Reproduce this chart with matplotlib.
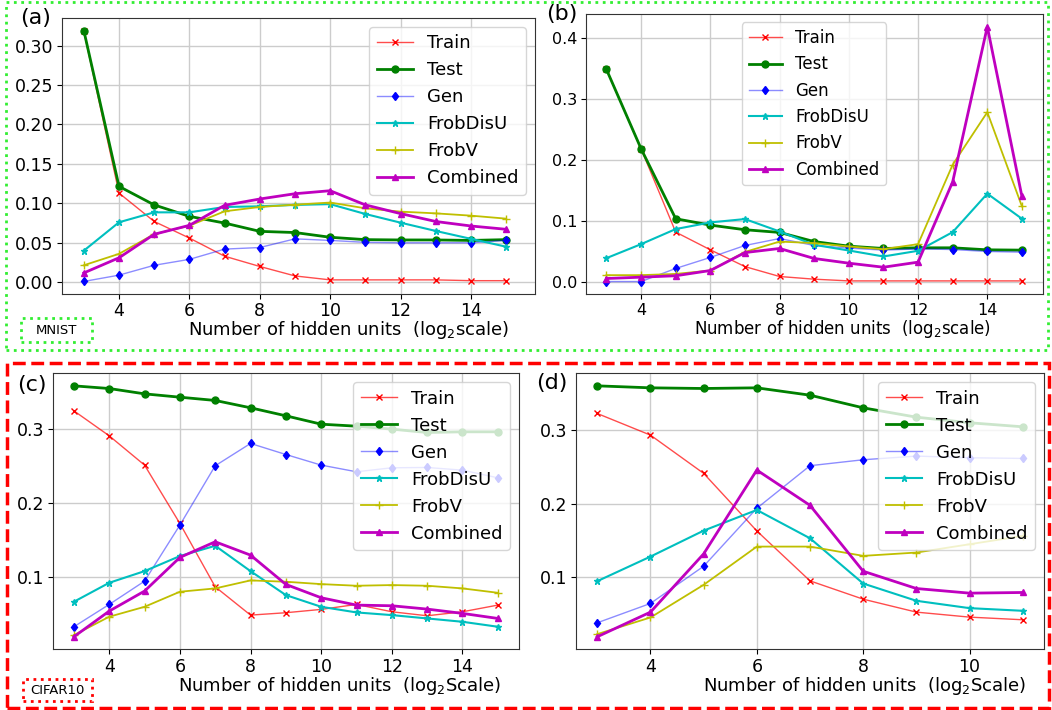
import numpy as np
import matplotlib.pyplot as plt
from matplotlib.patches import Rectangle

W, H = 1052, 710

# hidden-unit exponents
x_mnist = [3, 4, 5, 6, 7, 8, 9, 10, 11, 12, 13, 14, 15]
x_cifar_c = [3, 4, 5, 6, 7, 8, 9, 10, 11, 12, 13, 14, 15]
x_cifar_d = [3, 4, 5, 6, 7, 8, 9, 10, 11]

series_names = ['Train', 'Test', 'Gen', 'FrobDisU', 'FrobV', 'Combined']

# (a) MNIST
a_train = [0.318, 0.113, 0.077, 0.056, 0.033, 0.020, 0.008, 0.003, 0.003, 0.003, 0.003, 0.002, 0.002]
a_test = [0.319, 0.1215, 0.098, 0.0835, 0.075, 0.0645, 0.063, 0.057, 0.054, 0.0536, 0.0536, 0.053, 0.054]
a_gen = [0.001, 0.009, 0.0215, 0.029, 0.042, 0.044, 0.055, 0.053, 0.0506, 0.050, 0.050, 0.050, 0.053]
a_frobdisu = [0.040, 0.076, 0.0886, 0.0886, 0.0954, 0.0962, 0.098, 0.099, 0.0865, 0.0755, 0.065, 0.055, 0.045]
a_frobv = [0.0215, 0.036, 0.061, 0.0717, 0.0899, 0.0954, 0.0983, 0.101, 0.0937, 0.0895, 0.0873, 0.0844, 0.0806]
a_combined = [0.0118, 0.031, 0.0608, 0.0721, 0.0975, 0.1055, 0.1122, 0.116, 0.098, 0.087, 0.077, 0.0713, 0.0671]

# (b) MNIST
b_train = [0.348, 0.218, 0.0815, 0.0525, 0.025, 0.0088, 0.0044, 0.0016, 0.0016, 0.0016, 0.0016, 0.0016, 0.0016]
b_test = [0.348, 0.218, 0.1034, 0.093, 0.0854, 0.081, 0.066, 0.0585, 0.0547, 0.0558, 0.0558, 0.0525, 0.052]
b_gen = [0.0005, 0.0005, 0.022, 0.040, 0.0596, 0.071, 0.0596, 0.0553, 0.052, 0.054, 0.053, 0.0498, 0.0487]
b_frobdisu = [0.0389, 0.0618, 0.0865, 0.0974, 0.1029, 0.0826, 0.0607, 0.0514, 0.0416, 0.0509, 0.0815, 0.1445, 0.1034]
b_frobv = [0.011, 0.011, 0.013, 0.0186, 0.049, 0.066, 0.0635, 0.058, 0.0536, 0.0618, 0.192, 0.278, 0.1237]
b_combined = [0.0055, 0.0077, 0.010, 0.0186, 0.048, 0.0547, 0.0383, 0.0306, 0.024, 0.0323, 0.164, 0.418, 0.140]

# (c) CIFAR10
c_train = [0.3247, 0.291, 0.2515, 0.1728, 0.0874, 0.0492, 0.0524, 0.0569, 0.0636, 0.0537, 0.0483, 0.0537, 0.0627]
c_test = [0.3584, 0.3548, 0.3476, 0.3431, 0.3387, 0.3288, 0.318, 0.3067, 0.304, 0.300, 0.2955, 0.2964, 0.2964]
c_gen = [0.0335, 0.0636, 0.095, 0.1706, 0.2506, 0.2807, 0.2658, 0.2515, 0.2425, 0.2479, 0.2483, 0.2447, 0.2344]
c_frobdisu = [0.0672, 0.0928, 0.1085, 0.1288, 0.1427, 0.1085, 0.0762, 0.0604, 0.0528, 0.0492, 0.0447, 0.0402, 0.0335]
c_frobv = [0.0222, 0.047, 0.0604, 0.0807, 0.0852, 0.096, 0.0942, 0.091, 0.0888, 0.0897, 0.0888, 0.0852, 0.0793]
c_combined = [0.020, 0.0546, 0.0816, 0.127, 0.1481, 0.1301, 0.0906, 0.0726, 0.0627, 0.0618, 0.0573, 0.0515, 0.0447]

# (d) CIFAR10
d_train = [0.3226, 0.2932, 0.2412, 0.1629, 0.095, 0.0701, 0.0525, 0.0457, 0.0421]
d_test = [0.3602, 0.3575, 0.3566, 0.3575, 0.3475, 0.3303, 0.3176, 0.310, 0.3045]
d_gen = [0.038, 0.0643, 0.1149, 0.1937, 0.2516, 0.2597, 0.2647, 0.2624, 0.2615]
d_frobdisu = [0.0946, 0.128, 0.1633, 0.1914, 0.1529, 0.0914, 0.0679, 0.0579, 0.0543]
d_frobv = [0.0226, 0.0452, 0.0896, 0.1416, 0.1416, 0.129, 0.1335, 0.1448, 0.1561]
d_combined = [0.019, 0.0525, 0.1317, 0.2457, 0.1977, 0.1081, 0.0846, 0.0783, 0.0792]

styles = {
    'Train': dict(color=(1, 0, 0, 0.7), marker='x', lw=1.0, ms=5, mfc='r', mec='r'),
    'Test': dict(color='#008000', marker='o', lw=2.0, ms=5),
    'Gen': dict(color=(0, 0, 1, 0.45), marker='d', lw=1.0, ms=4.5, mfc='b', mec='b'),
    'FrobDisU': dict(color='c', marker='*', lw=1.5, ms=5),
    'FrobV': dict(color='y', marker='+', lw=1.3, ms=6),
    'Combined': dict(color='m', marker='^', lw=2.0, ms=5),
}


def px(l, t, r, b):
    return [l / W, 1 - b / H, (r - l) / W, (b - t) / H]


def panel(ax, x, ys, xlabel, lab_pos, fs, legend_loc):
    for name, y in zip(series_names, ys):
        ax.plot(x, y, label=name, **styles[name])
    ax.grid(True, color='#cccccc', linewidth=1)
    ax.set_axisbelow(True)
    ax.tick_params(labelsize=fs - 0.5, pad=2.5)
    for s in ax.spines.values():
        s.set_color('#333333')
    ax.set_xlabel(xlabel, fontsize=fs)
    ax.xaxis.set_label_coords(*lab_pos)
    ax.legend(loc=legend_loc, fontsize=fs)


plt.rcParams['font.family'] = 'DejaVu Sans'
fig = plt.figure(figsize=(W / 100, H / 100), dpi=100)

ax_a = fig.add_axes(px(62, 18, 535, 294))
panel(ax_a, x_mnist, [a_train, a_test, a_gen, a_frobdisu, a_frobv, a_combined],
      r'Number of hidden units  (log$_2$scale)', (0.607, -0.092), 13, 'upper right')
ax_a.set_xlim(2.38, 15.82)
ax_a.set_yticks([0.0, 0.05, 0.10, 0.15, 0.20, 0.25, 0.30])
ax_a.set_xticks([4, 6, 8, 10, 12, 14])

ax_b = fig.add_axes(px(585.7, 14, 1042.7, 294.3))
panel(ax_b, x_mnist, [b_train, b_test, b_gen, b_frobdisu, b_frobv, b_combined],
      r'Number of hidden units  (log$_2$scale)', (0.561, -0.086), 12, 'upper center')
ax_b.set_yticks([0.0, 0.1, 0.2, 0.3, 0.4])
ax_b.set_xticks([4, 6, 8, 10, 12, 14])

ax_c = fig.add_axes(px(52.7, 373.3, 519, 649.3))
panel(ax_c, x_cifar_c, [c_train, c_test, c_gen, c_frobdisu, c_frobv, c_combined],
      r'Number of hidden units  (log$_2$Scale)', (0.616, -0.094), 13, 'upper right')
ax_c.set_yticks([0.1, 0.2, 0.3])
ax_c.set_xticks([4, 6, 8, 10, 12, 14])

ax_d = fig.add_axes(px(576, 373.3, 1044, 649.3))
panel(ax_d, x_cifar_d, [d_train, d_test, d_gen, d_frobdisu, d_frobv, d_combined],
      r'Number of hidden units  (log$_2$Scale)', (0.617, -0.094), 13, 'upper right')
ax_d.set_yticks([0.1, 0.2, 0.3])
ax_d.set_xticks([4, 6, 8, 10])

# panel letters
for lbl, (xp, yp) in zip(['(a)', '(b)', '(c)', '(d)'],
                         [(20, 18), (546, 14), (17, 385), (536, 383)]):
    fig.text(xp / W, 1 - yp / H, lbl, fontsize=16, va='center', ha='left')

# dataset group boxes
green = '#33ee33'
fig.patches.append(Rectangle((6 / W, 1 - 350 / H), 1042 / W, 348 / H, transform=fig.transFigure,
                             fill=False, ec=green, ls=':', lw=2))
fig.patches.append(Rectangle((7 / W, 1 - 708 / H), 1042 / W, 345 / H, transform=fig.transFigure,
                             fill=False, ec='red', ls='--', lw=2.5))
fig.patches.append(Rectangle((21 / W, 1 - 342 / H), 71 / W, 24 / H, transform=fig.transFigure,
                             fill=False, ec=green, ls=':', lw=2))
fig.text(56.5 / W, 1 - 330 / H, 'MNIST', fontsize=9.5, ha='center', va='center')
fig.patches.append(Rectangle((23 / W, 1 - 701 / H), 69 / W, 22 / H, transform=fig.transFigure,
                             fill=False, ec='red', ls=':', lw=2))
fig.text(57.5 / W, 1 - 690 / H, 'CIFAR10', fontsize=9.5, ha='center', va='center')

fig.savefig('out.png', dpi=100)
